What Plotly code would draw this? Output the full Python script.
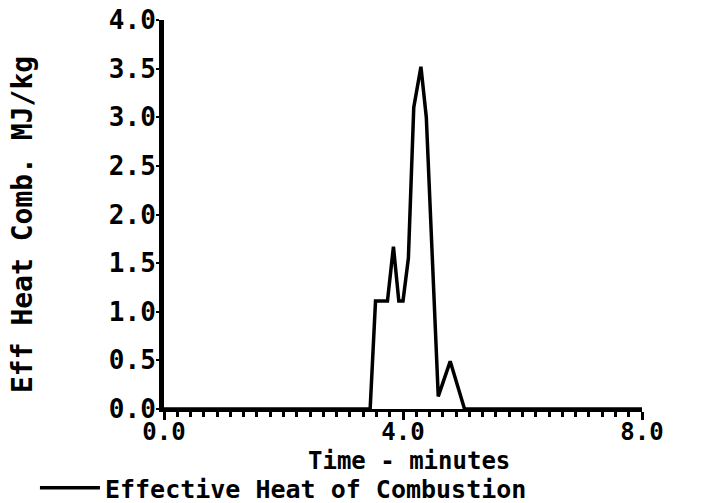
import plotly.graph_objects as go

# Data
time_min = [0.0, 3.45, 3.54, 3.74, 3.84, 3.93, 4.00, 4.09, 4.18, 4.30, 4.39, 4.59, 4.79, 5.03, 8.0]
eff_heat = [0.0, 0.0, 1.11, 1.11, 1.67, 1.11, 1.11, 1.55, 3.10, 3.52, 3.00, 0.13, 0.49, 0.0, 0.0]
series_name = "Effective Heat of Combustion"
x_title = "Time - minutes"
y_title = "Eff Heat Comb. MJ/kg"
x_major_ticks = [0.0, 4.0, 8.0]
x_minor_per_major = 18  # minor divisions between labelled ticks

FONT = "DejaVu Sans Mono"
minor_vals = [i * 4.0 / x_minor_per_major for i in range(2 * x_minor_per_major + 1)]

fig = go.Figure()
fig.add_trace(go.Scatter(
    x=time_min, y=eff_heat, mode="lines", name=series_name,
    line=dict(color="black", width=3.5), showlegend=True,
))

fig.update_layout(
    width=706, height=503,
    margin=dict(l=164, r=64, t=20, b=94, autoexpand=False),
    paper_bgcolor="white", plot_bgcolor="white",
    font=dict(family=FONT, color="black", size=26),
    showlegend=True,
    legend=dict(
        x=-0.270, y=-0.144, xanchor="left", yanchor="top",
        orientation="h", itemwidth=60,
        font=dict(family=FONT, size=25, color="black", weight="bold"),
        bgcolor="rgba(0,0,0,0)",
    ),
    annotations=[
        dict(text=x_title, xref="paper", yref="paper", x=0.5126, y=-0.1337,
             xanchor="center", yanchor="middle", showarrow=False,
             font=dict(family=FONT, size=24, color="black", weight="bold")),
        dict(text=y_title, xref="paper", yref="paper", x=-0.297, y=0.473,
             xanchor="center", yanchor="middle", showarrow=False, textangle=-90,
             font=dict(family=FONT, size=28, color="black", weight="bold")),
    ],
)

fig.update_xaxes(
    range=[0, 8], tickmode="array", tickvals=x_major_ticks, tickformat=".1f",
    showgrid=False, zeroline=False, automargin=False,
    showline=True, linecolor="black", linewidth=3,
    ticks="outside", ticklen=8, tickwidth=3, tickcolor="black",
    ticklabelstandoff=-9,
    minor=dict(tickmode="array", tickvals=minor_vals, ticks="outside",
               ticklen=5, tickwidth=3, tickcolor="black", showgrid=False),
    tickfont=dict(family=FONT, size=24, color="black", weight="bold"),
)
fig.update_yaxes(
    range=[0, 4], tick0=0, dtick=0.5, tickformat=".1f",
    showgrid=False, zeroline=False, automargin=False,
    showline=True, linecolor="black", linewidth=5,
    ticks="outside", ticklen=3, tickwidth=2, tickcolor="black",
    ticklabelstandoff=-5,
    tickfont=dict(family=FONT, size=26, color="black", weight="bold"),
)

fig.write_html("out.html")
